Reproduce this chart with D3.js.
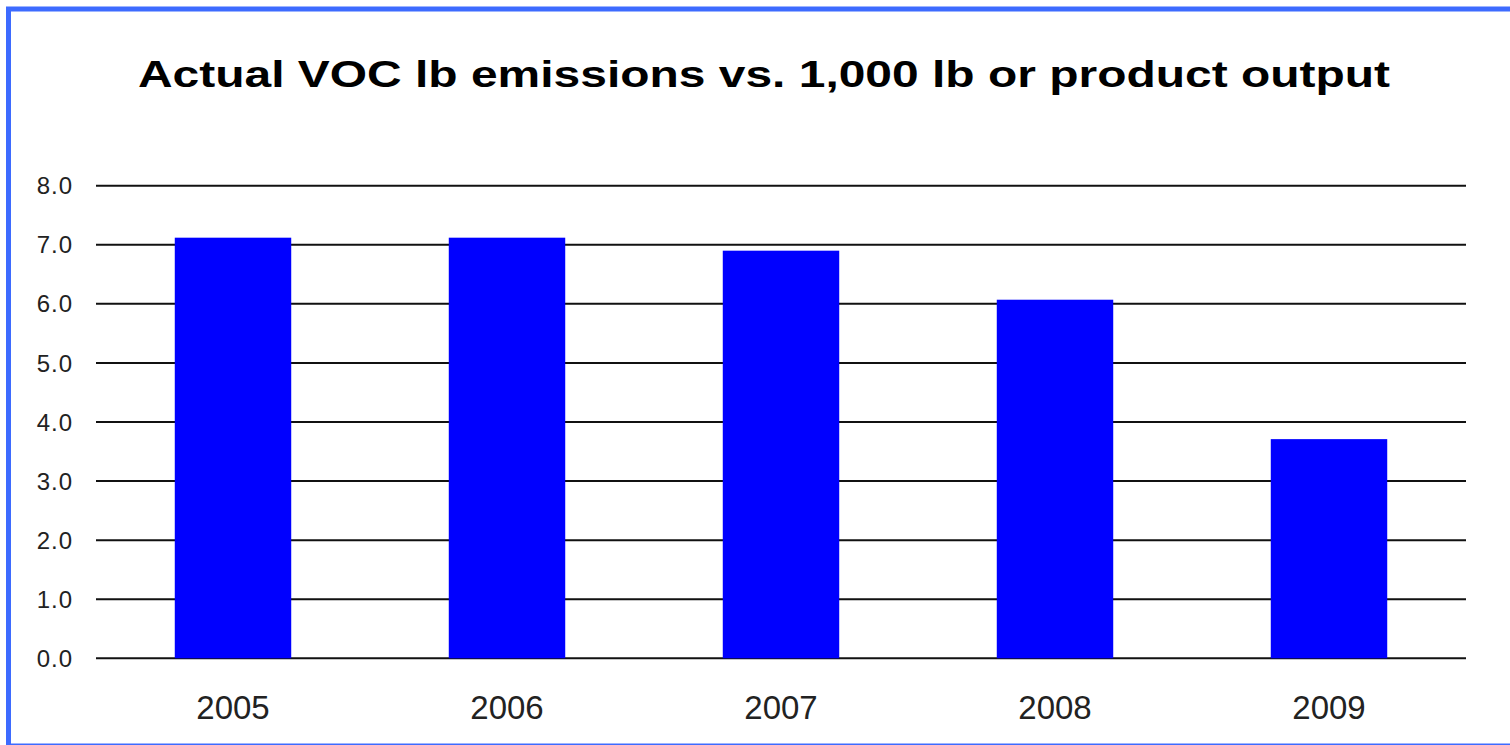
<!DOCTYPE html>
<html>
<head>
<meta charset="utf-8">
<script src="https://cdn.jsdelivr.net/npm/d3@7"></script>
<style>
  html, body { margin: 0; padding: 0; background: #fff; }
  svg { display: block; }
</style>
</head>
<body>
<svg id="chart" width="1510" height="745"></svg>
<script>
// Emissions per 1,000 lb of product, by year
const years = ["2005", "2006", "2007", "2008", "2009"];
const emissions = [7.12, 7.12, 6.90, 6.07, 3.71];
const yTicks = [0, 1, 2, 3, 4, 5, 6, 7, 8];
const titleText = "Actual VOC lb emissions vs. 1,000 lb or product output";

const svg = d3.select("#chart");

// Frame
svg.append("rect")
  .attr("x", 8.5).attr("y", 9)
  .attr("width", 1540).attr("height", 737)
  .attr("fill", "#fff")
  .attr("stroke", "#3d6bff")
  .attr("stroke-width", 5);

// Title (slightly condensed vertically)
svg.append("text")
  .attr("transform", "translate(138,87) scale(1,0.9)")
  .attr("textLength", 1252)
  .attr("lengthAdjust", "spacingAndGlyphs")
  .style("font-family", "'Liberation Sans', Arial, sans-serif")
  .style("font-weight", "bold")
  .style("font-size", "40px")
  .attr("fill", "#000")
  .text(titleText);

const x = d3.scaleBand()
  .domain(years)
  .range([96, 1466])
  .paddingInner(0.575)
  .paddingOuter(0.2875);

const y = d3.scaleLinear()
  .domain([0, 8])
  .range([658.3, 185.7]);

// Horizontal grid lines
svg.append("g")
  .selectAll("line")
  .data(yTicks)
  .join("line")
  .attr("x1", 96).attr("x2", 1466)
  .attr("y1", d => y(d)).attr("y2", d => y(d))
  .attr("stroke", "#111")
  .attr("stroke-width", 2);

// Y tick labels
svg.append("g")
  .selectAll("text")
  .data(yTicks)
  .join("text")
  .attr("x", 73)
  .attr("y", d => y(d))
  .attr("dy", "0.36em")
  .attr("text-anchor", "end")
  .style("font-family", "'Liberation Sans', Arial, sans-serif")
  .style("font-size", "24px")
  .style("letter-spacing", "1px")
  .attr("fill", "#222")
  .text(d => d3.format(".1f")(d));

// Bars
svg.append("g")
  .selectAll("rect")
  .data(years.map((yr, i) => ({ yr, v: emissions[i] })))
  .join("rect")
  .attr("x", d => x(d.yr))
  .attr("width", x.bandwidth())
  .attr("y", d => y(d.v))
  .attr("height", d => y(0) - y(d.v))
  .attr("fill", "#0000ff");

// X category labels
svg.append("g")
  .selectAll("text")
  .data(years)
  .join("text")
  .attr("x", d => x(d) + x.bandwidth() / 2)
  .attr("y", 719)
  .attr("text-anchor", "middle")
  .style("font-family", "'Liberation Sans', Arial, sans-serif")
  .style("font-size", "33px")
  .attr("fill", "#222")
  .text(d => d);
</script>
</body>
</html>
